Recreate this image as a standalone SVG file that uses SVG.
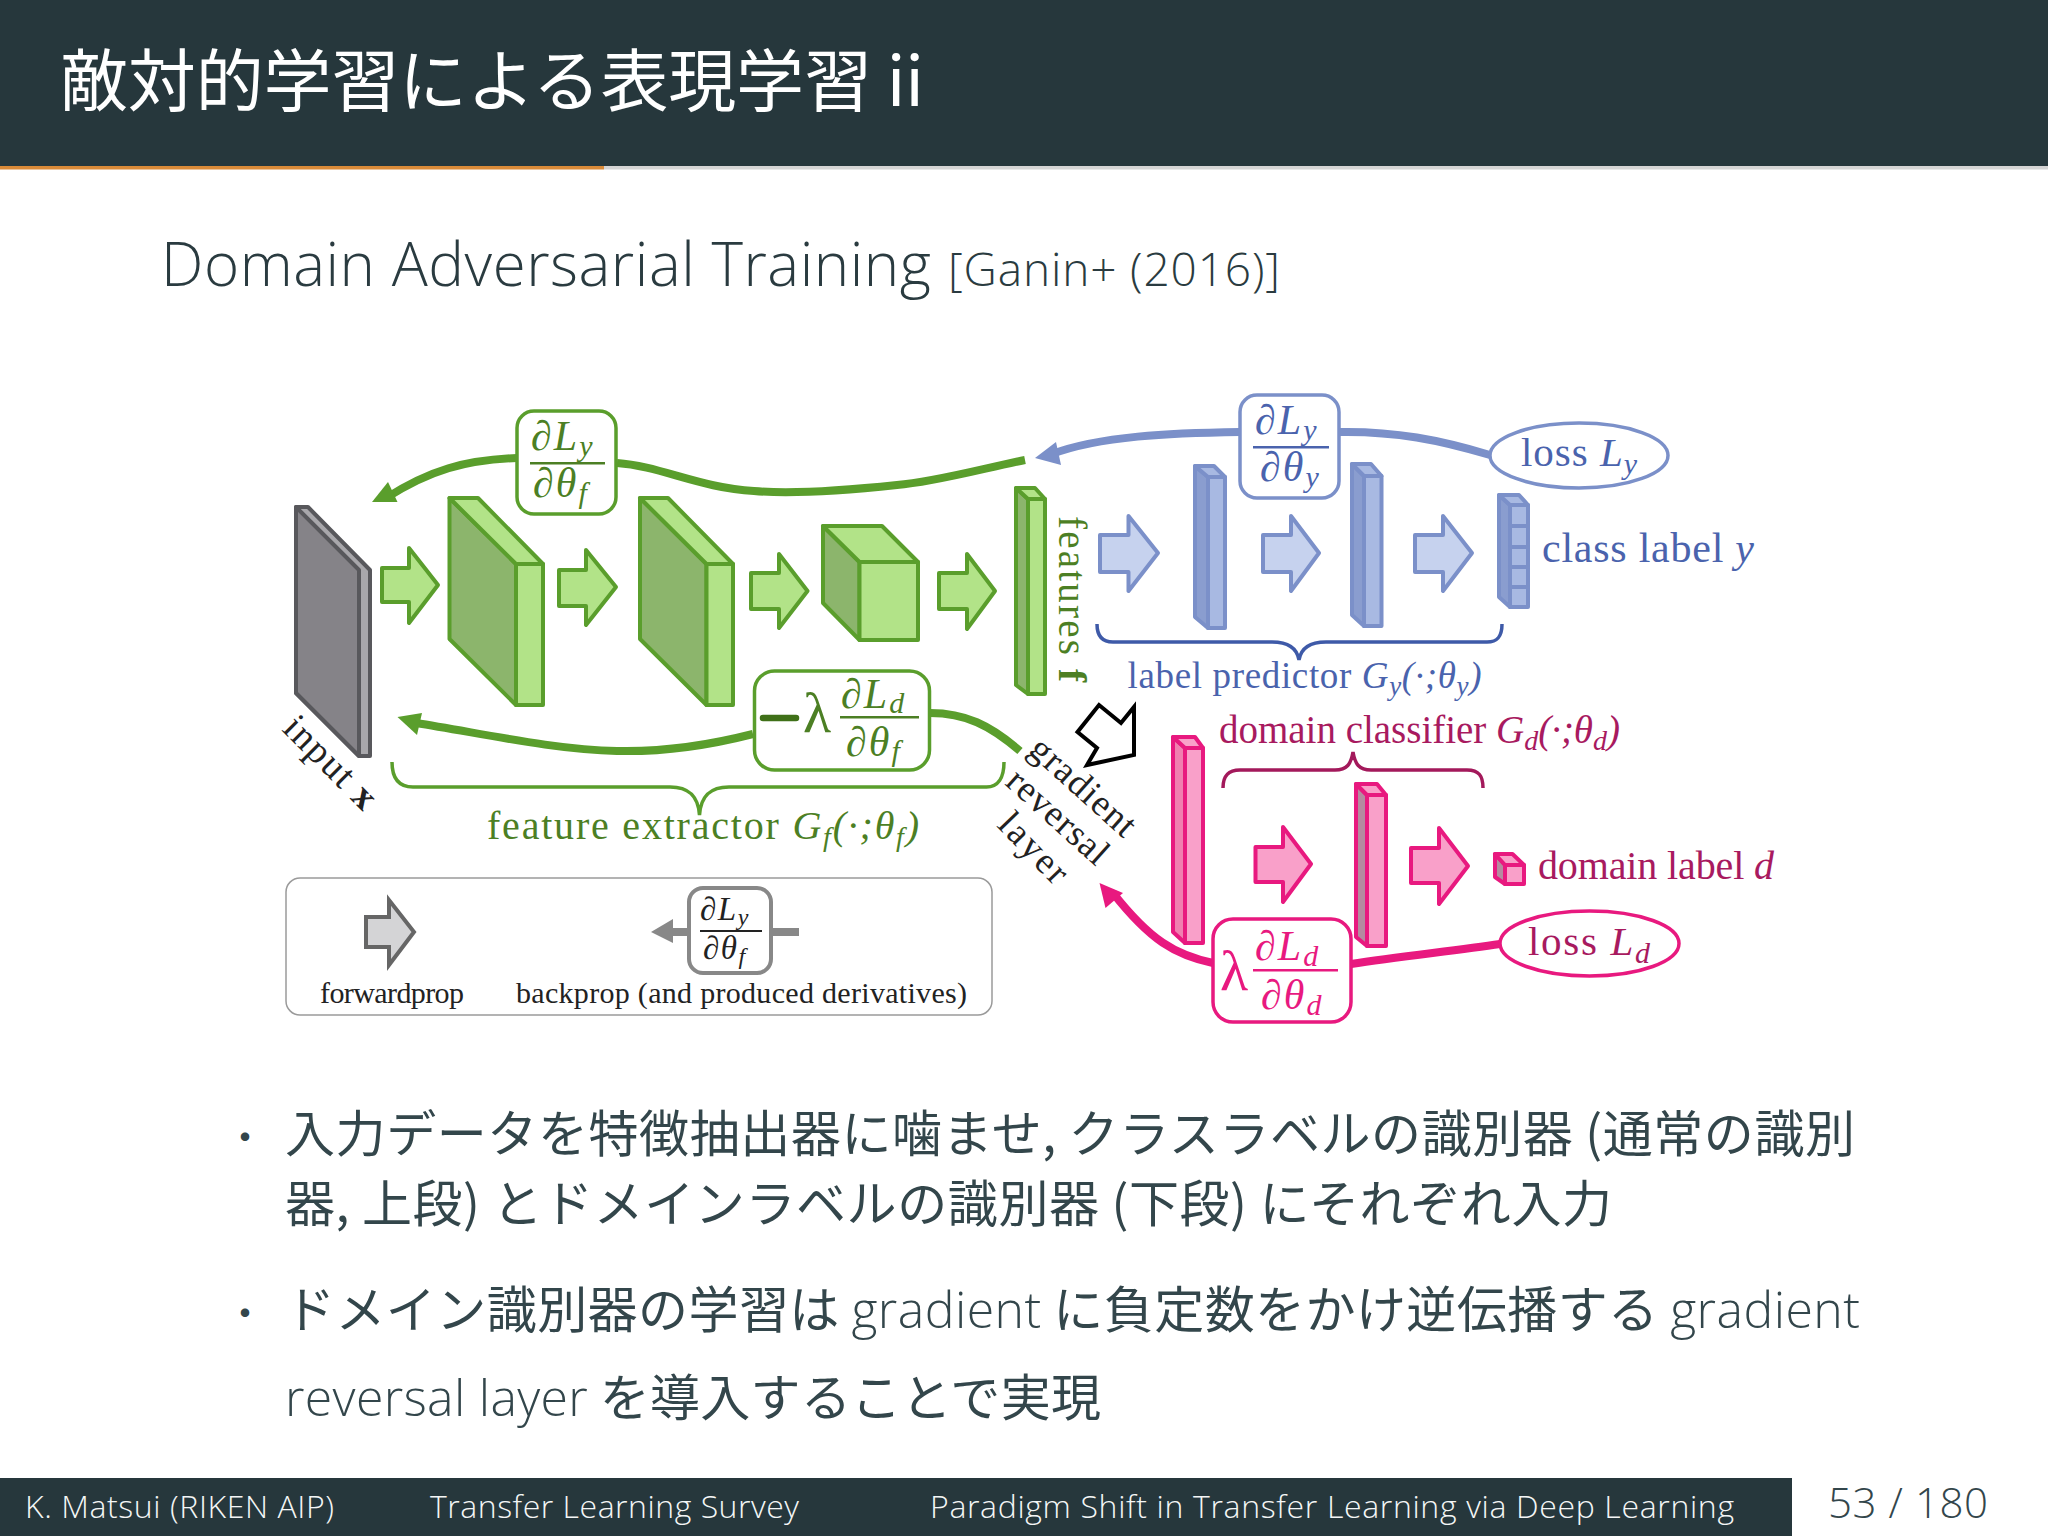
<svg xmlns="http://www.w3.org/2000/svg" width="2048" height="1536" viewBox="0 0 2048 1536">
<style>
.ja{font-family:"Noto Sans CJK JP","Noto Sans",sans-serif;font-weight:400}
.sans{font-family:"Open Sans","Noto Sans",sans-serif;font-weight:300}
.m{font-family:"Liberation Serif",serif}
.i{font-style:italic}
.fr{font-size:42px;letter-spacing:2px}
.sub{font-size:30px}
.body{font-size:50px;fill:#33464b}
.foot{font-size:32px;fill:#f4f6f6}
.g polygon,.g path.s{stroke:#5a9e2c;stroke-width:4;stroke-linejoin:round}
.b polygon{stroke:#7b90c9;stroke-width:4;stroke-linejoin:round}
.p polygon{stroke:#e8197f;stroke-width:4;stroke-linejoin:round}
.gt{fill:#4c7f24}.bt{fill:#4a63ad}.pt{fill:#a81a5f}.pf{fill:#e8197f}.kt{fill:#222}
.gf{fill:#b2e388}.gl{fill:#8cb56c}
.bf{fill:#a8b9e2}.bl{fill:#8a9dcf}.ba{fill:#c6d2ee}
.pa{fill:#f9a0c9}.pl{fill:#f07fb0}
.box{fill:#fff;stroke-width:3.5}
.line{fill:none;stroke-linecap:butt}
</style>

<g id="header">
<rect x="0" y="0" width="2048" height="166" fill="#26373c"/>
<rect x="0" y="166" width="604" height="3.5" fill="#d98a38"/>
<rect x="604" y="166" width="1444" height="3.5" fill="#d4d4d4"/>
<text class="ja" x="60" y="106" font-size="68" fill="#fff" textLength="864">敵対的学習による表現学習 ii</text>
</g>

<g id="subtitle">
<text class="sans" x="161" y="286" font-size="60" fill="#2a3b40" textLength="770">Domain Adversarial Training</text>
<text class="sans" x="948" y="286" font-size="46" fill="#2a3b40" textLength="332">[Ganin+ (2016)]</text>
</g>

<g id="connectors">
<path class="line" d="M1025 460C985 468 935 482 897 485C850 490 790 494 754 491C700 488 660 466 617 463" stroke="#5a9e2c" stroke-width="8"/>
<path class="line" d="M517 458C465 460 430 470 386 498" stroke="#5a9e2c" stroke-width="8"/>
<polygon points="372,502 388,482 397.500,502" fill="#5a9e2c"/>
<path class="line" d="M753 734C710 745 660 752 617 751C555 750 480 733 416 723" stroke="#5a9e2c" stroke-width="8"/>
<polygon points="397.500,717 422,713 417,735" fill="#5a9e2c"/>
<path class="line" d="M930 713C965 713 990 725 1020 751" stroke="#5a9e2c" stroke-width="8"/>
<path class="line" d="M392 762C392 778 398 787 413 787H670C688 787 698 795 699.500 815C701 795 711 787 729 787H986.500C998 787 1004 778 1004 762" stroke="#5a9e2c" stroke-width="3.500"/>

<path class="line" d="M1490 455C1440 440 1395 431 1339 432" stroke="#7b90c9" stroke-width="8"/>
<path class="line" d="M1240 432C1170 433 1100 436 1052 454" stroke="#7b90c9" stroke-width="8"/>
<polygon points="1035,458 1056,442 1061,465" fill="#7b90c9"/>
<path class="line" d="M1097 624C1097 636 1102 642 1113 642H1272C1288 642 1297 648 1299 660C1301 648 1310 642 1326 642H1487C1498 642 1502 636 1502 624" stroke="#3e5aa8" stroke-width="3.500"/>

<path class="line" d="M1500 944C1455 951 1400 956 1351 964" stroke="#e8197f" stroke-width="8"/>
<path class="line" d="M1213 963C1175 955 1150 940 1113 893" stroke="#e8197f" stroke-width="8"/>
<polygon points="1099.500,883 1123,893 1105.500,908" fill="#e8197f"/>
<path class="line" d="M1223 788C1223 776 1228 770 1240 770H1335C1347 770 1351 764 1353 752C1355 764 1359 770 1371 770H1467C1479 770 1483 776 1483 788" stroke="#a3195b" stroke-width="3.500"/>
</g>

<g id="input-x">
<polygon points="296,507 308,507 370,570 370,756 359,756 296,693" fill="#a8a7ab" stroke="#58585c" stroke-width="4" stroke-linejoin="round"/>
<polygon points="296,507 359,570 359,756 296,693" fill="#858388" stroke="#58585c" stroke-width="4" stroke-linejoin="round"/>
<text class="m kt" transform="translate(281 730) rotate(45)" font-size="38" textLength="116">input <tspan font-weight="bold">x</tspan></text>
</g>

<g id="conv1" class="g">
<polygon class="gl" points="449.500,498 516,564 516,705 449.500,639"/>
<polygon class="gf" points="449.500,498 478,498 543,564 516,564"/>
<polygon class="gf" points="516,564 543,564 543,705 516,705"/>
</g>
<g id="conv2" class="g">
<polygon class="gl" points="640,498 706.500,564 706.500,705 640,639"/>
<polygon class="gf" points="640,498 668,498 733,564 706.500,564"/>
<polygon class="gf" points="706.500,564 733,564 733,705 706.500,705"/>
</g>
<g id="conv3" class="g">
<polygon class="gl" points="823,526 859.500,562 859.500,640 823,603"/>
<polygon class="gf" points="823,526 882,526 918,562 859.500,562"/>
<polygon class="gf" points="859.500,562 918,562 918,640 859.500,640"/>
</g>
<g id="features" class="g">
<polygon class="gl" points="1016,488 1028,499 1028,694 1016,685"/>
<polygon class="gf" points="1016,488 1035,488 1045,499 1028,499"/>
<polygon class="gf" points="1028,499 1045,499 1045,694 1028,694"/>
<text class="m gt" transform="translate(1059 516) rotate(90)" font-size="39" textLength="166" stroke="none">features <tspan font-weight="bold">f</tspan></text>
</g>

<g id="forward-arrows-green" class="g">
<polygon class="gf" points="382,568 409,568 409,548 438,585 409,623 409,602 382,602"/>
<polygon class="gf" points="559,570 586,570 586,550 616,587 586,625 586,606 559,606"/>
<polygon class="gf" points="751,573 779,573 779,554 807.500,591 779,628 779,609 751,609"/>
<polygon class="gf" points="939,573 967,573 967,554 995,591 967,629 967,609 939,609"/>
</g>

<g id="grad-ly-thetaf">
<rect class="box" x="517" y="411" width="99" height="103" rx="17" stroke="#5a9e2c"/>
<text class="m i gt fr" x="531" y="450">∂L<tspan class="sub" dy="6">y</tspan></text>
<rect class="gt" x="530" y="462" width="75" height="2.500"/>
<text class="m i gt fr" x="533" y="497">∂θ<tspan class="sub" dy="6">f</tspan></text>
</g>

<g id="grad-minus-lambda">
<rect class="box" x="754.500" y="671" width="175" height="99" rx="20" stroke="#5a9e2c"/>
<line x1="763" y1="718" x2="796" y2="718" stroke="#3f7018" stroke-width="6.500" stroke-linecap="round"/>
<text class="m gt" x="803" y="732" font-size="58">λ</text>
<text class="m i gt fr" x="841" y="708">∂L<tspan class="sub" dy="5">d</tspan></text>
<rect class="gt" x="840" y="716" width="79" height="2.500"/>
<text class="m i gt fr" x="846" y="756">∂θ<tspan class="sub" dy="5">f</tspan></text>
</g>

<g id="label-feature-extractor">
<text class="m gt" x="487" y="839" font-size="40" textLength="432">feature extractor <tspan class="i">G<tspan font-size="28" dy="7">f</tspan><tspan dy="-7">(</tspan>·;θ<tspan font-size="28" dy="7">f</tspan><tspan dy="-7">)</tspan></tspan></text>
</g>

<g id="label-gradient-reversal">
<text class="m kt" transform="translate(1027 752) rotate(42)" font-size="37" textLength="130">gradient</text>
<text class="m kt" transform="translate(1004 784) rotate(42)" font-size="37" textLength="124">reversal</text>
<text class="m kt" transform="translate(996 826) rotate(46)" font-size="37" textLength="84">layer</text>
<polygon points="1099,705 1121,723 1134,707 1134,755 1087,765 1097,748 1077.500,732" fill="#fff" stroke="#000" stroke-width="4"/>
</g>

<g id="grad-ly-thetay">
<rect class="box" x="1240" y="395" width="99" height="103" rx="17" stroke="#7b90c9"/>
<text class="m i bt fr" x="1255" y="434">∂L<tspan class="sub" dy="6">y</tspan></text>
<rect class="bt" x="1253" y="446" width="76" height="2.500"/>
<text class="m i bt fr" x="1260" y="481">∂θ<tspan class="sub" dy="6">y</tspan></text>
</g>

<g id="loss-ly">
<ellipse cx="1579" cy="455.500" rx="89" ry="32.500" fill="#fff" stroke="#7b90c9" stroke-width="3.500"/>
<text class="m bt" x="1521" y="466" font-size="41" textLength="116">loss <tspan class="i">L<tspan font-size="30" dy="8">y</tspan></tspan></text>
</g>

<g id="pred1" class="b">
<polygon class="bl" points="1195,466 1208,477 1208,628 1195,617"/>
<polygon class="bf" points="1195,466 1214,466 1225,477 1208,477"/>
<polygon class="bf" points="1208,477 1225,477 1225,628 1208,628"/>
</g>
<g id="pred2" class="b">
<polygon class="bl" points="1352,464 1364,476 1364,626 1352,615"/>
<polygon class="bf" points="1352,464 1371,464 1381.500,476 1364,476"/>
<polygon class="bf" points="1364,476 1381.500,476 1381.500,626 1364,626"/>
</g>
<g id="class-label" class="b">
<polygon class="bl" points="1499,495 1510,505 1510,607 1499,597"/>
<polygon class="bf" points="1499,495 1519,495 1528,505 1510,505"/>
<polygon class="bf" points="1510,505 1528,505 1528,526 1510,526"/>
<polygon class="bf" points="1510,526 1528,526 1528,547 1510,547"/>
<polygon class="bf" points="1510,547 1528,547 1528,567 1510,567"/>
<polygon class="bf" points="1510,567 1528,567 1528,587 1510,587"/>
<polygon class="bf" points="1510,587 1528,587 1528,607 1510,607"/>
<text class="m bt" x="1542" y="562" font-size="42" textLength="212" stroke="none">class label <tspan class="i">y</tspan></text>
</g>
<g id="forward-arrows-blue" class="b">
<polygon class="ba" points="1100,535 1128.500,535 1128.500,516 1158,553 1128.500,591 1128.500,572 1100,572"/>
<polygon class="ba" points="1263,535 1291,535 1291,516 1319,553 1291,591 1291,572 1263,572"/>
<polygon class="ba" points="1415,535 1443,535 1443,516 1472,553 1443,591 1443,572 1415,572"/>
</g>
<g id="label-label-predictor">
<text class="m bt" x="1127.500" y="688" font-size="37" textLength="354">label predictor <tspan class="i">G<tspan font-size="27" dy="7">y</tspan><tspan dy="-7">(</tspan>·;θ<tspan font-size="27" dy="7">y</tspan><tspan dy="-7">)</tspan></tspan></text>
</g>

<g id="dom1" class="p">
<polygon class="pl" points="1173,737 1185,748 1185,943 1173,932"/>
<polygon class="pa" points="1173,737 1195,737 1203,748 1185,748"/>
<polygon class="pa" points="1185,748 1203,748 1203,943 1185,943"/>
</g>
<g id="dom2" class="p">
<polygon fill="#b58aa0" points="1356,784 1367,795 1367,946 1356,937"/>
<polygon class="pa" points="1356,784 1377,784 1386,795 1367,795"/>
<polygon class="pa" points="1367,795 1386,795 1386,946 1367,946"/>
</g>
<g id="domain-label" class="p">
<polygon fill="#b58aa0" points="1495,854 1505,865 1505,884 1495,877"/>
<polygon class="pa" points="1495,854 1512.500,854 1524,865 1505,865"/>
<polygon class="pa" points="1505,865 1524,865 1524,884 1505,884"/>
<text class="m pt" x="1538" y="879" font-size="40" textLength="236" stroke="none">domain label <tspan class="i">d</tspan></text>
</g>
<g id="forward-arrows-pink" class="p">
<polygon class="pa" points="1255.500,847 1283,847 1283,827 1311,864 1283,902 1283,882 1255.500,882"/>
<polygon class="pa" points="1411,848 1439,848 1439,828 1468,866 1439,904 1439,883 1411,883"/>
</g>
<g id="label-domain-classifier">
<text class="m pt" x="1219" y="743" font-size="39" textLength="401">domain classifier <tspan class="i">G<tspan font-size="28" dy="7">d</tspan><tspan dy="-7">(</tspan>·;θ<tspan font-size="28" dy="7">d</tspan><tspan dy="-7">)</tspan></tspan></text>
</g>
<g id="grad-lambda-ld">
<rect class="box" x="1213" y="919" width="138" height="103" rx="20" stroke="#e8197f"/>
<text class="m pf" x="1220" y="990" font-size="58">λ</text>
<text class="m i pf fr" x="1255" y="960">∂L<tspan class="sub" dy="6">d</tspan></text>
<rect class="pf" x="1253" y="969" width="85" height="2.500"/>
<text class="m i pf fr" x="1261" y="1009">∂θ<tspan class="sub" dy="6">d</tspan></text>
</g>
<g id="loss-ld">
<ellipse cx="1589.500" cy="943.500" rx="89.500" ry="32.500" fill="#fff" stroke="#e8197f" stroke-width="3.500"/>
<text class="m pt" x="1528" y="955" font-size="41" textLength="122">loss <tspan class="i">L<tspan font-size="30" dy="8">d</tspan></tspan></text>
</g>

<g id="legend">
<rect x="286" y="878" width="706" height="137" rx="14" fill="#fff" stroke="#9a9a9a" stroke-width="1.500"/>
<polygon points="366,917 389,917 389,900 414,932 389,965 389,947 366,947" fill="#d4d4d6" stroke="#666" stroke-width="4"/>
<text class="m kt" x="320" y="1003" font-size="30" textLength="144">forwardprop</text>
<line x1="799" y1="932" x2="670" y2="932" stroke="#888" stroke-width="8"/>
<polygon points="651,932 673,919 673,943" fill="#888"/>
<rect x="689" y="888" width="82" height="85" rx="14" fill="#fff" stroke="#888" stroke-width="4"/>
<text class="m i kt" x="700" y="920" font-size="33" letter-spacing="1.500">∂L<tspan font-size="24" dy="5">y</tspan></text>
<rect class="kt" x="700" y="930" width="62" height="2"/>
<text class="m i kt" x="703" y="959" font-size="33" letter-spacing="1.500">∂θ<tspan font-size="24" dy="5">f</tspan></text>
<text class="m kt" x="516" y="1003" font-size="30" textLength="451">backprop (and produced derivatives)</text>
</g>

<g id="bullets">
<text class="ja" x="225" y="1152" font-size="40" fill="#33464b">・</text>
<text class="ja body" x="285" y="1152" textLength="1570">入力データを特徴抽出器に噛ませ, クラスラベルの識別器 (通常の識別</text>
<text class="ja body" x="285" y="1222" textLength="1327">器, 上段) とドメインラベルの識別器 (下段) にそれぞれ入力</text>
<text class="ja" x="225" y="1328" font-size="40" fill="#33464b">・</text>
<text class="ja body" x="285" y="1328" textLength="1575">ドメイン識別器の学習は <tspan class="sans">gradient</tspan> に負定数をかけ逆伝播する <tspan class="sans">gradient</tspan></text>
<text class="ja body" x="285" y="1416" textLength="816"><tspan class="sans">reversal layer</tspan> を導入することで実現</text>
</g>

<g id="footer">
<rect x="0" y="1478" width="1792" height="58" fill="#26373c"/>
<text class="sans foot" x="25" y="1518" textLength="309">K. Matsui (RIKEN AIP)</text>
<text class="sans foot" x="430" y="1518" textLength="369">Transfer Learning Survey</text>
<text class="sans foot" x="930" y="1518" textLength="804">Paradigm Shift in Transfer Learning via Deep Learning</text>
<text class="sans" x="1828" y="1518" font-size="42" fill="#33464b" textLength="160">53 / 180</text>
</g>
</svg>
